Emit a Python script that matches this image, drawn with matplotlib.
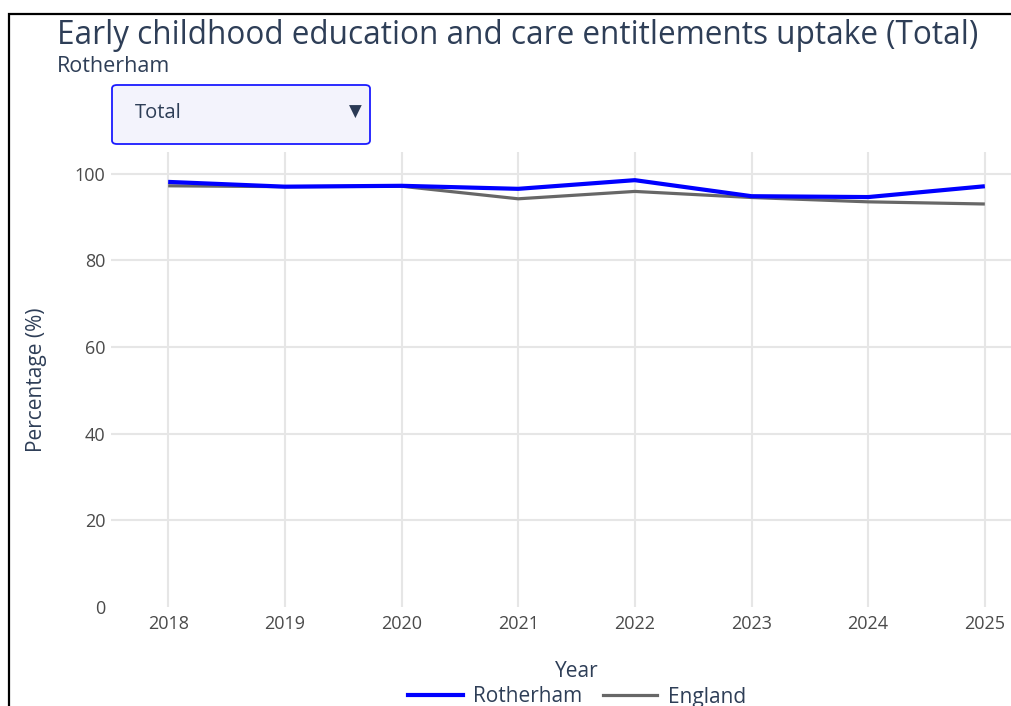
import numpy as np
import matplotlib
matplotlib.use("Agg")
import matplotlib.pyplot as plt
from matplotlib.patches import FancyBboxPatch, Rectangle
from matplotlib.lines import Line2D

years = [2018, 2019, 2020, 2021, 2022, 2023, 2024, 2025]
rotherham = [98.1, 97.0, 97.2, 96.5, 98.5, 94.8, 94.6, 97.1]
england = [97.2, 97.0, 97.1, 94.2, 95.9, 94.5, 93.5, 93.0]
yticks = [0, 20, 40, 60, 80, 100]

title = "Early childhood education and care entitlements uptake (Total)"
subtitle = "Rotherham"

plt.rcParams['font.family'] = ['Open Sans', 'DejaVu Sans']
text_col = "#2e3e57"
tick_col = "#4a4a4a"

W, H = 1012, 706
fig = plt.figure(figsize=(W / 100, H / 100), dpi=100)

# axes placed in pixel terms (plot area runs off the right edge like the screenshot)
left, right, top, bottom = 111, 1042, 152, 607
ax = fig.add_axes([left / W, 1 - bottom / H, (right - left) / W, (bottom - top) / H])

ax.plot(years, england, color="#676767", lw=2.3, solid_capstyle="butt", zorder=3)
ax.plot(years, rotherham, color="#0000ff", lw=3.0, solid_capstyle="butt", zorder=4)

ax.set_xlim(2017.51, 2025.49)
ax.set_ylim(0, 105)
ax.set_xticks(years)
ax.set_yticks(yticks)
ax.tick_params(length=0, labelsize=13, colors=tick_col)
ax.tick_params(axis="x", pad=6)
ax.tick_params(axis="y", pad=4)
for y in yticks[1:]:
    ax.axhline(y, color="#e6e6e6", lw=1.5, zorder=1)
for x in years:
    ax.axvline(x, color="#e6e6e6", lw=1.5, zorder=1)
for s in ax.spines.values():
    s.set_visible(False)

ax.set_ylabel("Percentage (%)", fontsize=15, color=text_col, labelpad=20)
ax.set_xlabel("Year", fontsize=15, color=text_col, labelpad=20)

# title block
fig.text(57 / W, 1 - 35 / H, title, fontsize=22.7, color=text_col, va="center", ha="left")
fig.text(57 / W, 1 - 66 / H, subtitle, fontsize=15.5, color=text_col, va="center", ha="left")

# dropdown menu
box = FancyBboxPatch((112 / W, 1 - 144 / H), (370 - 112) / W, (144 - 85) / H,
                     boxstyle="round,pad=0,rounding_size=0.005",
                     transform=fig.transFigure, facecolor="#f3f3fc",
                     edgecolor="#1a1aff", lw=1.3)
fig.add_artist(box)
fig.text(135 / W, 1 - 113 / H, "Total", fontsize=14.5, color=text_col, va="center")
fig.text(355 / W, 1 - 112 / H, "\u25BC", fontsize=12, color="#2b3a55", va="center",
         ha="center", family="DejaVu Sans")

# legend
handles = [Line2D([], [], color="#0000ff", lw=3.0), Line2D([], [], color="#676767", lw=2.3)]
fig.legend(handles, ["Rotherham", "England"], loc="center", bbox_to_anchor=(577 / W, 1 - 697 / H),
           ncol=2, frameon=False, fontsize=15, handlelength=2.6, handletextpad=0.5,
           columnspacing=1.0, labelcolor=text_col)

# frame of the screenshot (left and top edges visible)
fig.add_artist(Rectangle((9.5 / W, -0.1), 1.2, (1 - 13.5 / H) + 0.1, transform=fig.transFigure,
                         fill=False, edgecolor="black", lw=1.6))

fig.savefig("out.png", dpi=100)
